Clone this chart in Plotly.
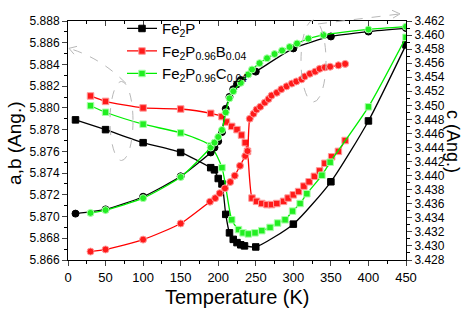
import plotly.graph_objects as go

# ---------------- data ----------------
# Fe2P : a (squares, left axis) and c (circles, right axis)
T_fe2p_a = [10, 50, 100, 150, 190, 195, 200, 205, 210, 215, 220, 225, 230, 235, 250, 300, 350, 400, 450]
a_fe2p = [5.8789, 5.8780, 5.8768, 5.8759, 5.8745, 5.8743, 5.8735, 5.8730, 5.8702, 5.8685, 5.8679,
          5.8676, 5.8674, 5.8673, 5.8672, 5.8693, 5.8732, 5.8788, 5.8858]
T_fe2p_c = [10, 50, 100, 150, 190, 195, 200, 205, 210, 215, 220, 225, 230, 250, 300, 350, 400, 450]
c_fe2p = [3.4346, 3.4352, 3.4370, 3.4399, 3.4433, 3.4440, 3.4449, 3.4462, 3.4495, 3.4512, 3.4523,
          3.4530, 3.4536, 3.4548, 3.4581, 3.4598, 3.4605, 3.4610]

# Fe2P0.96B0.04
T_b_a = [30, 50, 100, 150, 190, 205, 211, 218, 225, 231, 236, 239, 245, 251, 258, 265, 271, 278, 287,
         293, 300, 307, 314, 321, 328, 335, 342, 351, 360, 369]
a_b = [5.8811, 5.8806, 5.8800, 5.8799, 5.8795, 5.8792, 5.8787, 5.8783, 5.8780, 5.8775, 5.8768, 5.8760,
       5.8717, 5.8714, 5.8712, 5.8711, 5.8711, 5.8712, 5.8714, 5.8717, 5.8720, 5.8723, 5.8728, 5.8732,
       5.8737, 5.8742, 5.8749, 5.8755, 5.8760, 5.8770]
T_b_c = [30, 50, 100, 150, 189, 196, 202, 209, 216, 222, 229, 236, 239, 242, 247, 251, 256, 262, 267,
         271, 278, 284, 291, 298, 304, 311, 315, 322, 329, 335, 342, 349, 360, 369]
c_b = [3.4292, 3.4295, 3.4309, 3.4332, 3.4363, 3.4368, 3.4375, 3.4382, 3.4391, 3.4400, 3.4414, 3.4428,
       3.4435, 3.4481, 3.4488, 3.4494, 3.4498, 3.4504, 3.4509, 3.4514, 3.4518, 3.4523, 3.4527, 3.4531,
       3.4534, 3.4537, 3.4541, 3.4545, 3.4548, 3.4552, 3.4554, 3.4555, 3.4557, 3.4559]

# Fe2P0.96C0.04
T_c_a = [30, 50, 100, 150, 190, 205, 218, 227, 233, 240, 249, 258, 269, 279, 289, 299, 309, 318, 338,
         349, 400, 450]
a_c = [5.8802, 5.8796, 5.8785, 5.8777, 5.8765, 5.8745, 5.8697, 5.8688, 5.8685, 5.8684, 5.8685, 5.8687,
       5.8690, 5.8694, 5.8697, 5.8705, 5.8712, 5.8721, 5.8738, 5.8750, 5.8801, 5.8865]
T_c_c = [30, 50, 100, 150, 190, 195, 200, 205, 210, 215, 220, 230, 240, 245, 255, 265, 275, 285, 295,
         305, 320, 340, 400, 450]
c_c = [3.4347, 3.4351, 3.4368, 3.4398, 3.4440, 3.4447, 3.4455, 3.4465, 3.4490, 3.4510, 3.4520, 3.4532,
       3.4544, 3.4551, 3.4560, 3.4567, 3.4573, 3.4578, 3.4583, 3.4588, 3.4595, 3.4600, 3.4608, 3.4612]

names = ["Fe<sub>2</sub>P",
         "Fe<sub>2</sub>P<sub>0.96</sub>B<sub>0.04</sub>",
         "Fe<sub>2</sub>P<sub>0.96</sub>C<sub>0.04</sub>"]

x_ticks = [0, 50, 100, 150, 200, 250, 300, 350, 400, 450]

# ---------------- layout geometry ----------------
W, H = 463, 312
L, R, TOP, B = 68, 57, 15, 52
PW = W - L - R
PH = H - TOP - B
FONT = "Liberation Sans, Arial, sans-serif"


def fx(px):
    return (px - L) / PW


def fy(py):
    return (H - B - py) / PH


fig = go.Figure()

series = [
    (T_fe2p_a, a_fe2p, T_fe2p_c, c_fe2p, "#000000", "#000000", "#000000", names[0]),
    (T_b_a, a_b, T_b_c, c_b, "#ff0000", "#ff1a1a", "#ff9a9a", names[1]),
    (T_c_a, a_c, T_c_c, c_c, "#00ee00", "#22ee22", "#aaffaa", names[2]),
]

for ta, ya, tc, yc, lc, fc, ec, nm in series:
    fig.add_trace(go.Scatter(
        x=ta, y=ya, name=nm, mode="lines+markers",
        line=dict(color=lc, width=1.3, shape="spline", smoothing=0.6),
        marker=dict(symbol="square", size=6.5, color=fc, line=dict(color=ec, width=1)),
        xaxis="x", yaxis="y"))
    fig.add_trace(go.Scatter(
        x=tc, y=yc, name=nm, showlegend=False, mode="lines+markers",
        line=dict(color=lc, width=1.3, shape="spline", smoothing=0.6),
        marker=dict(symbol="circle", size=7, color=fc, line=dict(color=ec, width=1)),
        xaxis="x", yaxis="y2"))

# invisible trace to realise the top axis
fig.add_trace(go.Scatter(x=[0, 450], y=[5.866, 5.866], xaxis="x2", yaxis="y",
                         mode="markers", marker=dict(opacity=0), showlegend=False, hoverinfo="skip"))

gray = "#b8b8b8"
shapes = []
# ellipses
shapes.append(dict(type="circle", xref="paper", yref="paper",
                   x0=fx(110), x1=fx(133), y0=fy(158), y1=fy(77),
                   line=dict(color=gray, width=1, dash="dash")))
shapes.append(dict(type="circle", xref="paper", yref="paper",
                   x0=fx(301), x1=fx(326), y0=fy(98), y1=fy(14),
                   line=dict(color=gray, width=1, dash="dash")))
# curved arrow to the left axis
shapes.append(dict(type="path", xref="paper", yref="paper",
                   path=f"M {fx(126)} {fy(79)} Q {fx(102)} {fy(54)} {fx(72)} {fy(44)}",
                   line=dict(color=gray, width=1, dash="dash")))
shapes.append(dict(type="path", xref="paper", yref="paper",
                   path=f"M {fx(77)} {fy(41)} L {fx(69)} {fy(43)} L {fx(74)} {fy(49)}",
                   line=dict(color=gray, width=1)))
# straight arrow to the right axis
shapes.append(dict(type="path", xref="paper", yref="paper",
                   path=f"M {fx(318)} {fy(18)} L {fx(398)} {fy(8)}",
                   line=dict(color=gray, width=1, dash="dash")))
shapes.append(dict(type="path", xref="paper", yref="paper",
                   path=f"M {fx(392)} {fy(4)} L {fx(400)} {fy(7.7)} L {fx(393)} {fy(12)}",
                   line=dict(color=gray, width=1)))

annotations = [
    dict(text="Temperature (K)", xref="paper", yref="paper", x=0.5, y=fy(298),
         showarrow=False, font=dict(family=FONT, size=20, color="#000"), xanchor="center", yanchor="middle"),
    dict(text="a,b (Ang.)", xref="paper", yref="paper", x=fx(15), y=fy(141), textangle=-90,
         showarrow=False, font=dict(family=FONT, size=19, color="#000"), xanchor="center", yanchor="middle"),
    dict(text="c (Ang.)", xref="paper", yref="paper", x=fx(453), y=fy(138), textangle=90,
         showarrow=False, font=dict(family=FONT, size=18, color="#000"), xanchor="center", yanchor="middle"),
]

fig.update_layout(
    width=W, height=H,
    margin=dict(l=L, r=R, t=TOP, b=B, pad=0),
    plot_bgcolor="white", paper_bgcolor="white",
    font=dict(family=FONT, color="#000"),
    showlegend=True,
    legend=dict(x=fx(122), y=fy(6), xanchor="left", yanchor="top",
                bgcolor="rgba(0,0,0,0)", font=dict(family=FONT, size=15, color="#000"),
                itemwidth=30, tracegroupgap=0),
    xaxis=dict(range=[0, 450], tickvals=x_ticks, ticks="outside", ticklen=5, tickwidth=1,
               showline=True, linecolor="#000", linewidth=1, showgrid=False, zeroline=False,
               tickfont=dict(family=FONT, size=13),
               minor=dict(dtick=25, tick0=0, ticks="outside", ticklen=3, tickcolor="#000", showgrid=False)),
    xaxis2=dict(range=[0, 450], overlaying="x", side="top", anchor="y", tickvals=x_ticks,
                ticks="inside", ticklen=5, showticklabels=False, showline=True, linecolor="#000",
                linewidth=1, showgrid=False, zeroline=False,
                minor=dict(dtick=25, tick0=0, ticks="inside", ticklen=3, tickcolor="#000", showgrid=False)),
    yaxis=dict(range=[5.866, 5.888], dtick=0.002, tick0=5.866, tickformat=".3f", ticks="outside",
               ticklen=5, showline=True, linecolor="#000", linewidth=1, showgrid=False, zeroline=False,
               tickfont=dict(family=FONT, size=12),
               minor=dict(dtick=0.001, ticks="outside", ticklen=3, tickcolor="#000", showgrid=False)),
    yaxis2=dict(range=[3.428, 3.462], dtick=0.002, tick0=3.428, tickformat=".3f", overlaying="y",
                side="right", anchor="x", ticks="outside", ticklen=5, showline=True, linecolor="#000",
                linewidth=1, showgrid=False, zeroline=False, tickfont=dict(family=FONT, size=12),
                minor=dict(dtick=0.001, ticks="outside", ticklen=3, tickcolor="#000", showgrid=False)),
    shapes=shapes,
    annotations=annotations,
)

fig.write_html("out.html", config={"displayModeBar": False},
               post_script="document.body.style.margin='0px';")
